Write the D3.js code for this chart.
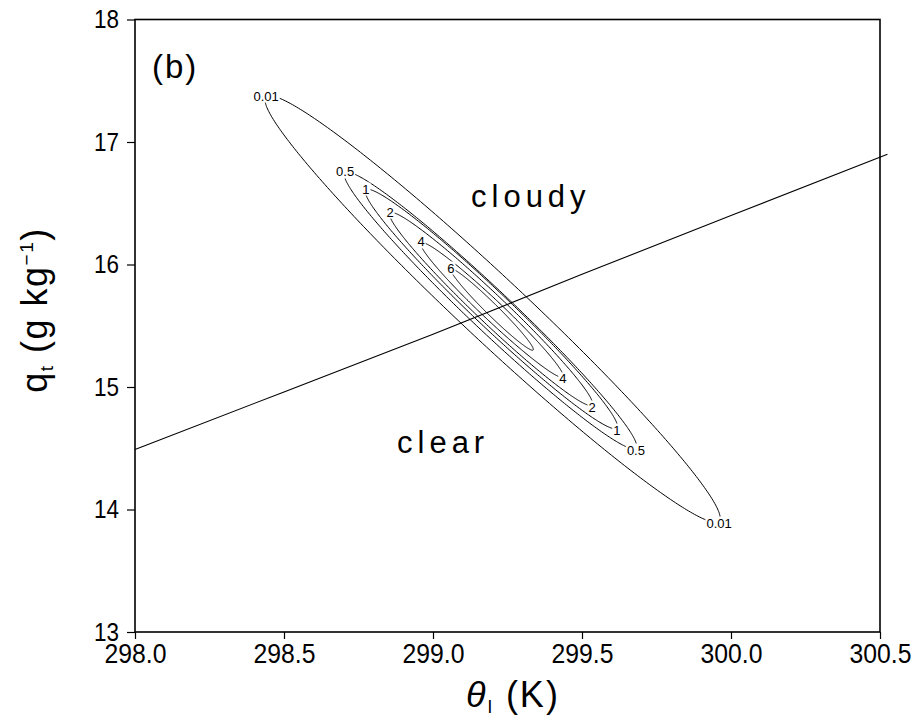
<!DOCTYPE html>
<html>
<head>
<meta charset="utf-8">
<script src="https://cdn.jsdelivr.net/npm/d3@7"></script>
<style>
  html, body { margin: 0; padding: 0; background: #fff; }
  svg { display: block; }
  text { font-family: "Liberation Sans", Arial, sans-serif; fill: #000; }
</style>
</head>
<body>
<svg id="chart" width="917" height="722"></svg>
<script>
// ---------------- data ----------------
const xTicks = [298.0, 298.5, 299.0, 299.5, 300.0, 300.5];
const yTicks = [13, 14, 15, 16, 17, 18];

// contour levels and the two ends of each (elongated, elliptical) contour, in data units
const contourLevels = ["0.01", "0.5", "1", "2", "4", "6"];
const contourTipUpper = [[298.440, 17.367], [298.705, 16.747], [298.775, 16.608], [298.856, 16.420], [298.960, 16.176], [299.060, 15.963]];
const contourTipLower = [[299.960, 13.906], [299.681, 14.502], [299.617, 14.665], [299.534, 14.853], [299.436, 15.082], [299.336, 15.302]];
const contourLowerLabel = [true, true, true, true, true, false];

// saturation (cloudy / clear) dividing line
const lineTheta = [298.0, 298.5, 299.0, 299.5, 300.0, 300.525];
const lineQt = [14.49, 14.96, 15.43, 15.92, 16.40, 16.90];

// ---------------- layout ----------------
const svg = d3.select("#chart");
const L = 135, R = 880, T = 19.5, B = 632;
const x = d3.scaleLinear().domain([298.0, 300.5]).range([L, R]);
const y = d3.scaleLinear().domain([13, 18]).range([B, T]);
const minorRatio = 0.103;

// frame
svg.append("rect")
  .attr("x", L).attr("y", T).attr("width", R - L).attr("height", B - T)
  .attr("fill", "none").attr("stroke", "#000").attr("stroke-width", 1.6);

// axes
const xAxis = d3.axisBottom(x).tickValues(xTicks).tickFormat(d3.format(".1f")).tickSize(7).tickPadding(5);
const gx = svg.append("g").attr("transform", `translate(0,${B})`).call(xAxis);
gx.select(".domain").remove();
gx.selectAll("line").attr("stroke", "#000").attr("stroke-width", 1.2);
gx.selectAll("text").attr("font-size", 27).attr("fill", "#000")
  .attr("textLength", 62).attr("lengthAdjust", "spacingAndGlyphs");

const yAxis = d3.axisLeft(y).tickValues(yTicks).tickFormat(d3.format("d")).tickSize(8).tickPadding(8);
const gy = svg.append("g").attr("transform", `translate(${L},0)`).call(yAxis);
gy.select(".domain").remove();
gy.selectAll("line").attr("stroke", "#000").attr("stroke-width", 1.2);
gy.selectAll("text").attr("font-size", 26).attr("fill", "#000")
  .attr("textLength", 25).attr("lengthAdjust", "spacingAndGlyphs");

// contours
const plot = svg.append("g");
const lineGen = d3.line().curve(d3.curveLinearClosed);
contourLevels.forEach((lev, i) => {
  const p1 = [x(contourTipUpper[i][0]), y(contourTipUpper[i][1])];
  const p2 = [x(contourTipLower[i][0]), y(contourTipLower[i][1])];
  const c = [(p1[0] + p2[0]) / 2, (p1[1] + p2[1]) / 2];
  const u = [p2[0] - c[0], p2[1] - c[1]];
  const a = Math.hypot(u[0], u[1]);
  const n = [-u[1] / a, u[0] / a];
  const b = a * minorRatio;
  const pts = d3.range(0, 360, 1).map(deg => {
    const t = deg * Math.PI / 180;
    return [c[0] + Math.cos(t) * u[0] + Math.sin(t) * b * n[0],
            c[1] + Math.cos(t) * u[1] + Math.sin(t) * b * n[1]];
  });
  plot.append("path").attr("d", lineGen(pts))
    .attr("fill", "none").attr("stroke", "#000").attr("stroke-width", 1);
});

// dividing line
plot.append("path")
  .attr("d", d3.line().x(d => x(d[0])).y(d => y(d[1]))(lineTheta.map((t, i) => [t, lineQt[i]])))
  .attr("fill", "none").attr("stroke", "#000").attr("stroke-width", 1.1);

// contour labels
function contourLabel(px, py, txt) {
  const g = svg.append("g");
  const t = g.append("text").attr("x", px).attr("y", py + 4.5)
    .attr("text-anchor", "middle").attr("font-size", 13).text(txt);
  const bb = t.node().getBBox();
  g.insert("rect", "text").attr("x", bb.x - 1).attr("y", bb.y + 1)
    .attr("width", bb.width + 2).attr("height", bb.height - 2).attr("fill", "#fff");
}
contourLevels.forEach((lev, i) => {
  contourLabel(x(contourTipUpper[i][0]), y(contourTipUpper[i][1]) - 1, lev);
  if (contourLowerLabel[i]) contourLabel(x(contourTipLower[i][0]), y(contourTipLower[i][1]) + 2, lev);
});

// annotations
svg.append("text").attr("x", 152).attr("y", 78).attr("font-size", 33).attr("letter-spacing", 2).text("(b)");
svg.append("text").attr("x", 471).attr("y", 207).attr("font-size", 31)
  .attr("letter-spacing", 5).text("cloudy");
svg.append("text").attr("x", 397).attr("y", 453).attr("font-size", 31)
  .attr("letter-spacing", 5).text("clear");

// x-axis title: θ_l (K)
const xt = svg.append("text").attr("x", 513).attr("y", 707).attr("text-anchor", "middle")
  .attr("font-size", 36).attr("letter-spacing", 2);
xt.append("tspan").attr("font-style", "italic").text("θ");
xt.append("tspan").attr("font-size", 19).attr("dy", 6).text("l");
xt.append("tspan").attr("dy", -6).text(" (K)");

// y-axis title: q_t (g kg^-1)
const yt = svg.append("text").attr("transform", "translate(47,310) rotate(-90)")
  .attr("text-anchor", "middle").attr("font-size", 36).attr("letter-spacing", 1.5);
yt.append("tspan").text("q");
yt.append("tspan").attr("font-size", 19).attr("dy", 6).text("t");
yt.append("tspan").attr("dy", -6).text(" (g  kg");
yt.append("tspan").attr("font-size", 19).attr("dy", -14).text("−1");
yt.append("tspan").attr("dy", 14).text(")");
</script>
</body>
</html>
